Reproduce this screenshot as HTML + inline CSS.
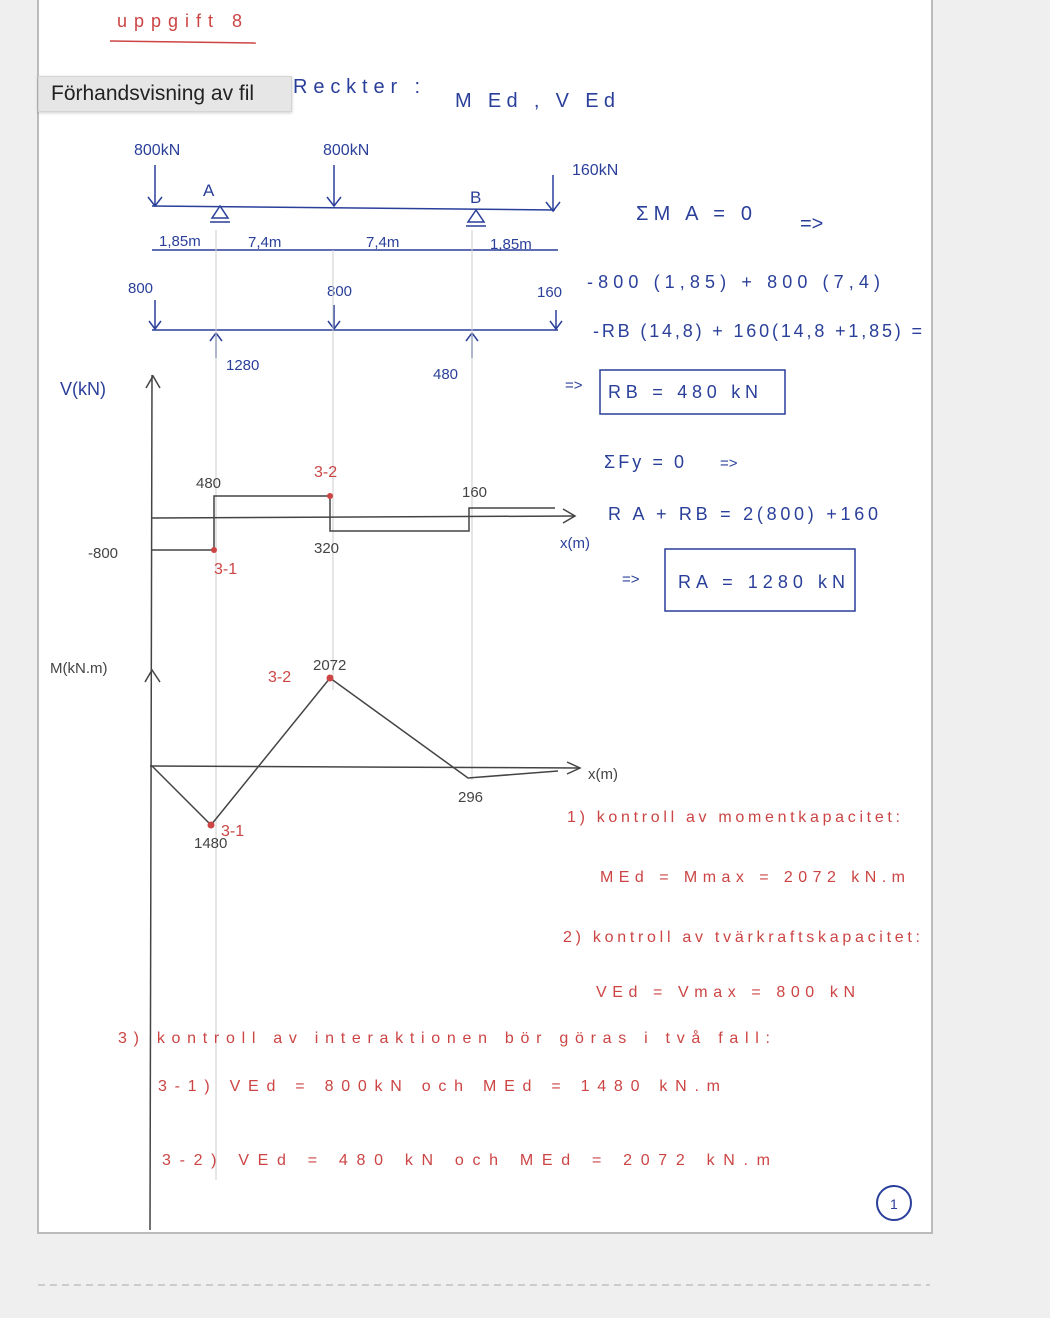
<!DOCTYPE html>
<html><head><meta charset="utf-8"><style>
body{margin:0;width:1050px;height:1318px;background:#efefef;overflow:hidden;font-family:"Liberation Sans",sans-serif}
svg{position:absolute;left:0;top:0}
.tip{position:absolute;left:38px;top:76px;width:254px;height:36px;background:#e6e6e6;border:1px solid #d4d4d4;box-sizing:border-box;font-size:21px;color:#222;line-height:34px;padding-left:12px;box-shadow:0 1px 3px rgba(0,0,0,.2)}
</style></head><body>
<svg width="1050" height="1318" viewBox="0 0 1050 1318" font-family="Liberation Sans, sans-serif">
<rect x="38" y="-2" width="894" height="1235" fill="#fff" stroke="#bbb" stroke-width="2"/>
<line x1="38" y1="1285" x2="930" y2="1285" stroke="#aaa" stroke-dasharray="7,5"/>
<g fill="#c44" font-size="18">
<text x="117" y="27" textLength="125" lengthAdjust="spacing">uppgift 8</text>
</g>
<line x1="110" y1="41" x2="256" y2="43" stroke="#c44" stroke-width="1.5"/>
<g fill="#2a3f9a" font-size="20">
<text x="293" y="93" textLength="127" lengthAdjust="spacing">Reckter :</text>
<text x="455" y="107" textLength="160" lengthAdjust="spacing">M Ed , V Ed</text>
<text x="134" y="155" font-size="16">800kN</text>
<text x="323" y="155" font-size="16">800kN</text>
<text x="572" y="175" font-size="16">160kN</text>
<text x="203" y="196" font-size="17">A</text>
<text x="470" y="203" font-size="17">B</text>
<text x="636" y="220" textLength="116" lengthAdjust="spacing">ΣM A = 0</text>
<text x="800" y="230">=&gt;</text>
<text x="159" y="246" font-size="15">1,85m</text>
<text x="248" y="247" font-size="15">7,4m</text>
<text x="366" y="247" font-size="15">7,4m</text>
<text x="490" y="249" font-size="15">1,85m</text>
<text x="128" y="293" font-size="15">800</text>
<text x="327" y="296" font-size="15">800</text>
<text x="537" y="297" font-size="15">160</text>
<text x="587" y="288" font-size="18" textLength="293" lengthAdjust="spacing">-800 (1,85) + 800 (7,4)</text>
<text x="593" y="337" font-size="18" textLength="329" lengthAdjust="spacing">-RB (14,8) + 160(14,8 +1,85) =</text>
<text x="226" y="370" font-size="15">1280</text>
<text x="433" y="379" font-size="15">480</text>
<text x="565" y="390" font-size="15">=&gt;</text>
<text x="608" y="398" font-size="18" textLength="150" lengthAdjust="spacing">RB = 480 kN</text>
<text x="60" y="395" font-size="18">V(kN)</text>
<text x="604" y="468" font-size="18" textLength="80" lengthAdjust="spacing">ΣFy = 0</text>
<text x="720" y="468" font-size="15">=&gt;</text>
<text x="608" y="520" font-size="18" textLength="270" lengthAdjust="spacing">R A + RB = 2(800) +160</text>
<text x="560" y="548" font-size="15">x(m)</text>
<text x="622" y="584" font-size="15">=&gt;</text>
<text x="678" y="588" font-size="18" textLength="167" lengthAdjust="spacing">RA = 1280 kN</text>
</g>
<rect x="600" y="370" width="185" height="44" fill="none" stroke="#2a3f9a" stroke-width="1.5"/>
<rect x="665" y="549" width="190" height="62" fill="none" stroke="#2a3f9a" stroke-width="1.5"/>
<g stroke="#2a3f9a" stroke-width="1.5" fill="none">
<line x1="152" y1="206" x2="555" y2="210"/>
<line x1="152" y1="250" x2="558" y2="250"/>
<line x1="152" y1="330" x2="558" y2="330"/>
<line x1="155" y1="165" x2="155" y2="205"/><path d="M148 197 L155 206 L162 197"/>
<line x1="334" y1="165" x2="334" y2="205"/><path d="M327 197 L334 206 L341 197"/>
<line x1="553" y1="175" x2="553" y2="210"/><path d="M546 202 L553 211 L560 202"/>
<path d="M220 206 L212 218 L228 218 Z M210 222 L230 222"/>
<path d="M476 210 L468 222 L484 222 Z M466 226 L486 226"/>
<line x1="155" y1="300" x2="155" y2="328"/><path d="M149 321 L155 329 L161 321"/>
<line x1="334" y1="305" x2="334" y2="328"/><path d="M328 321 L334 329 L340 321"/>
<line x1="556" y1="310" x2="556" y2="328"/><path d="M550 321 L556 329 L562 321"/>
<line x1="216" y1="334" x2="216" y2="358"/><path d="M210 341 L216 333 L222 341"/>
<line x1="472" y1="334" x2="472" y2="358"/><path d="M466 341 L472 333 L478 341"/>
</g>
<g stroke="#ccc" stroke-width="1">
<line x1="216" y1="230" x2="216" y2="1180"/>
<line x1="333" y1="250" x2="333" y2="690"/>
<line x1="472" y1="230" x2="472" y2="780"/>
</g>
<g stroke="#444" stroke-width="1.5" fill="none">
<line x1="152" y1="375" x2="150" y2="1230"/><path d="M146 388 L153 376 L160 388"/>
<line x1="152" y1="518" x2="575" y2="516"/><path d="M563 509 L575 516 L563 523"/>
<path d="M152 550 L214 550 L214 496 L330 496 L330 531 L469 531 L469 508 L555 508"/>
<path d="M145 682 L152 670 L160 682"/>
<line x1="150" y1="766" x2="580" y2="768"/><path d="M567 762 L580 768 L567 774"/>
<path d="M152 766 L211 825 L330 678 L468 778 L558 771"/>
</g>
<g fill="#c44"><circle cx="214" cy="550" r="3"/><circle cx="330" cy="496" r="3"/><circle cx="330" cy="678" r="3.5"/><circle cx="211" cy="825" r="3.5"/></g>
<g fill="#444" font-size="15">
<text x="196" y="488">480</text>
<text x="462" y="497">160</text>
<text x="88" y="558">-800</text>
<text x="314" y="553">320</text>
<text x="50" y="673">M(kN.m)</text>
<text x="313" y="670">2072</text>
<text x="458" y="802">296</text>
<text x="194" y="848">1480</text>
<text x="588" y="779">x(m)</text>
</g>
<g fill="#c44" font-size="16">
<text x="314" y="477">3-2</text>
<text x="214" y="574">3-1</text>
<text x="268" y="682">3-2</text>
<text x="221" y="836">3-1</text>
<text x="567" y="822" textLength="333" lengthAdjust="spacing">1) kontroll av momentkapacitet:</text>
<text x="600" y="882" textLength="305" lengthAdjust="spacing">MEd = Mmax = 2072 kN.m</text>
<text x="563" y="942" textLength="357" lengthAdjust="spacing">2) kontroll av tvärkraftskapacitet:</text>
<text x="596" y="997" textLength="259" lengthAdjust="spacing">VEd = Vmax = 800 kN</text>
<text x="118" y="1043" textLength="652" lengthAdjust="spacing">3) kontroll av interaktionen bör göras i två fall:</text>
<text x="158" y="1091" textLength="562" lengthAdjust="spacing">3-1) VEd = 800kN och MEd = 1480 kN.m</text>
<text x="162" y="1165" textLength="608" lengthAdjust="spacing">3-2) VEd = 480 kN och MEd = 2072 kN.m</text>
</g>
<circle cx="894" cy="1203" r="17" fill="none" stroke="#2a3f9a" stroke-width="2"/>
<text x="890" y="1209" fill="#2a3f9a" font-size="14">1</text>
</svg>
<div class="tip">Förhandsvisning av fil</div>
</body></html>
